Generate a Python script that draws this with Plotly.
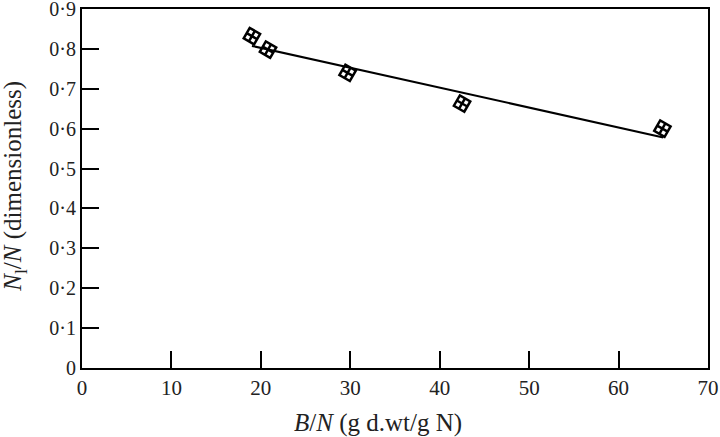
import plotly.graph_objects as go

# Data
bn = [19.0, 20.8, 29.7, 42.5, 64.9]
nl_n = [0.832, 0.798, 0.740, 0.663, 0.600]
fit_x = [19.0, 65.0]
fit_y = [0.8075, 0.578]

x_ticks = [0, 10, 20, 30, 40, 50, 60, 70]
y_ticks = [0, 0.1, 0.2, 0.3, 0.4, 0.5, 0.6, 0.7, 0.8, 0.9]
y_tick_text = ["0", "0·1", "0·2", "0·3", "0·4", "0·5", "0·6", "0·7", "0·8", "0·9"]
x_title = "<i>B</i>/<i>N</i> (g d.wt/g N)"
y_title = "<i>N</i><sub>l</sub>/<i>N</i> (dimensionless)"

font_family = "Liberation Serif, Times New Roman, serif"

fig = go.Figure()
fig.add_trace(go.Scatter(x=fit_x, y=fit_y, mode="lines",
                         line=dict(color="black", width=2), showlegend=False))
fig.add_trace(go.Scatter(x=bn, y=nl_n, mode="markers",
                         marker=dict(symbol="square-cross-open", size=12, angle=30,
                                     color="black", line=dict(color="black", width=2.5)),
                         showlegend=False))

fig.update_layout(
    width=720, height=437,
    margin=dict(l=82, r=12, t=9, b=69, autoexpand=False),
    plot_bgcolor="white", paper_bgcolor="white",
    font=dict(family=font_family, size=20, color="#222"),
    xaxis=dict(range=[0, 70], tickvals=x_ticks, ticks="inside", ticklen=17,
               tickwidth=2, tickcolor="black", showline=True, linecolor="black",
               linewidth=2, mirror=True, showgrid=False, zeroline=False,
               automargin=False, tickfont=dict(size=21),
               ticklabeloverflow="allow"),
    yaxis=dict(range=[0, 0.9], tickvals=y_ticks, ticktext=y_tick_text,
               ticks="inside", ticklen=17, tickwidth=2, tickcolor="black",
               showline=True, linecolor="black", linewidth=2, mirror=True,
               showgrid=False, zeroline=False, automargin=False,
               tickfont=dict(size=20), ticklabeloverflow="allow"),
    annotations=[
        dict(text=x_title, xref="paper", yref="paper", x=0.473, y=-0.153,
             xanchor="center", yanchor="middle", showarrow=False,
             font=dict(size=25, family=font_family, color="#222")),
        dict(text=y_title, xref="paper", yref="paper", x=-0.107, y=0.505,
             xanchor="center", yanchor="middle", showarrow=False, textangle=-90,
             font=dict(size=25, family=font_family, color="#222")),
    ],
)

fig.write_html("out.html", config={"displayModeBar": False},
               post_script="document.body.style.margin='0';")
